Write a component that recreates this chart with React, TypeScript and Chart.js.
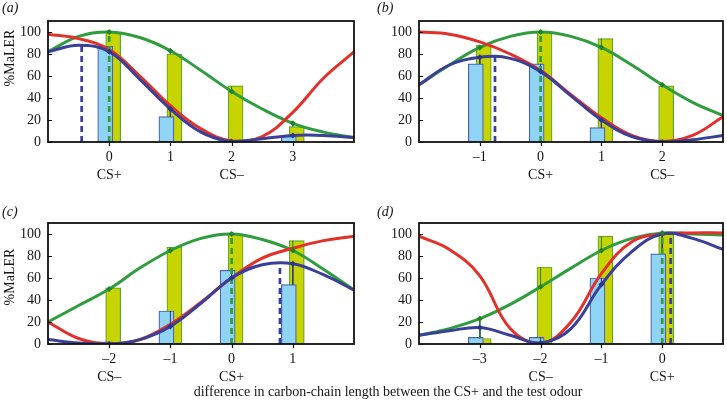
import React, { useEffect, useRef } from 'react';
import { Chart, registerables } from 'chart.js';

Chart.register(...registerables);

const FONT = '"Liberation Serif", "DejaVu Serif", serif';
const TEXT = '#151515';

// shared y ticks
const yTicks = [0, 20, 40, 60, 80, 100];
const yRange = [0, 110];

// ---------- panel (a) ----------
const xRangeA = [-1, 4];
const ticksA = [0, 1, 2, 3];
const namesA = ['CS+', '', 'CS–', ''];
const blueBarsA = [87, 23, 1, 5];
const yellowBarsA = [100, 80, 51, 14];
const curveXA = [-1, -0.5, 0, 0.5, 1, 1.5, 2, 2.5, 3, 3.5, 4];
const greenA = [82, 96, 100, 95, 83, 65, 46, 30, 17, 9, 4];
const redA = [98, 94, 84, 60, 33, 12, 1, 5, 27, 58, 82];
const blueA = [82, 88, 82, 57, 30, 9, 0.5, 3, 6, 6, 4];
const greenMarksA = [100, 83, 46, 17];
const blueMarksA = [82, 30, 0.5, 6];
const greenPeakA = [0, 100];
const bluePeakA = [-0.45, 88];

// ---------- panel (b) ----------
const xRangeB = [-2, 3];
const ticksB = [-1, 0, 1, 2];
const namesB = ['', 'CS+', '', 'CS–'];
const blueBarsB = [71, 71, 13, 0];
const yellowBarsB = [88, 100, 94, 51];
const curveXB = [-2, -1.5, -1, -0.5, 0, 0.5, 1, 1.5, 2, 2.5, 3];
const greenB = [52, 70, 86, 96, 100, 96, 86, 70, 52, 36, 24];
const redB = [100, 98, 91, 80, 65, 43, 22, 6, 0.5, 6, 23];
const blueB = [52, 70, 77, 76, 64, 42, 20, 5, 0, 2, 6];
const greenMarksB = [86, 100, 86, 52];
const blueMarksB = [77, 64, 20, 0];
const greenPeakB = [0, 100];
const bluePeakB = [-0.75, 79];

// ---------- panel (c) ----------
const xRangeC = [-3, 2];
const ticksC = [-2, -1, 0, 1];
const namesC = ['CS–', '', 'CS+', ''];
const blueBarsC = [2, 30, 67, 54];
const yellowBarsC = [51, 88, 100, 94];
const curveXC = [-3, -2.5, -2, -1.5, -1, -0.5, 0, 0.5, 1, 1.5, 2];
const greenC = [20, 35, 50, 69, 85, 96, 100, 95, 85, 68, 49];
const redC = [20, 5, 0, 4, 18, 38, 60, 78, 87, 94, 98];
const blueC = [4, 1, 0, 4, 16, 37, 60, 72, 73, 63, 49];
const greenMarksC = [50, 85, 100, 85];
const blueMarksC = [0, 16, 60, 73];
const greenPeakC = [0, 100];
const bluePeakC = [0.79, 74];

// ---------- panel (d) ----------
const xRangeD = [-4, 1];
const ticksD = [-3, -2, -1, 0];
const namesD = ['', 'CS–', '', 'CS+'];
const blueBarsD = [6, 6, 60, 82];
const yellowBarsD = [5, 70, 98, 100];
const curveXD = [-4, -3.5, -3, -2.5, -2, -1.5, -1, -0.5, 0, 0.5, 1];
const greenD = [8, 14, 23, 36, 52, 69, 85, 96, 101, 100, 99];
const redD = [98, 86, 62, 14, 0.5, 20, 64, 93, 100, 101, 101];
const blueD = [8, 12, 15, 8, 1, 14, 54, 84, 100, 96, 86];
const greenMarksD = [23, 52, 85, 101];
const blueMarksD = [15, 1, 54, 100];
const greenPeakD = [0, 101];
const bluePeakD = [0.14, 100];

// ---------- styles ----------
const GREEN = '#2f9c3e';
const GREEN_DARK = '#23802f';
const RED = '#e3302a';
const BLUE = '#3a3f98';
const BLUE_DARK = '#2c3488';
const BLUE_FILL = '#8fd3f5';
const BLUE_EDGE = '#4b5fae';
const YELLOW_FILL = '#c8d400';
const YELLOW_EDGE = '#5aa62f';
const BAR_SHIFT = 0.065;

type PanelData = {
  xRange: number[];
  ticks: number[];
  names: string[];
  blueBars: number[];
  yellowBars: number[];
  curveX: number[];
  green: number[];
  red: number[];
  blue: number[];
  greenMarks: number[];
  blueMarks: number[];
  greenPeak: number[];
  bluePeak: number[];
};

const panels: Record<string, PanelData> = {
  a: { xRange: xRangeA, ticks: ticksA, names: namesA, blueBars: blueBarsA, yellowBars: yellowBarsA, curveX: curveXA, green: greenA, red: redA, blue: blueA, greenMarks: greenMarksA, blueMarks: blueMarksA, greenPeak: greenPeakA, bluePeak: bluePeakA },
  b: { xRange: xRangeB, ticks: ticksB, names: namesB, blueBars: blueBarsB, yellowBars: yellowBarsB, curveX: curveXB, green: greenB, red: redB, blue: blueB, greenMarks: greenMarksB, blueMarks: blueMarksB, greenPeak: greenPeakB, bluePeak: bluePeakB },
  c: { xRange: xRangeC, ticks: ticksC, names: namesC, blueBars: blueBarsC, yellowBars: yellowBarsC, curveX: curveXC, green: greenC, red: redC, blue: blueC, greenMarks: greenMarksC, blueMarks: blueMarksC, greenPeak: greenPeakC, bluePeak: bluePeakC },
  d: { xRange: xRangeD, ticks: ticksD, names: namesD, blueBars: blueBarsD, yellowBars: yellowBarsD, curveX: curveXD, green: greenD, red: redD, blue: blueD, greenMarks: greenMarksD, blueMarks: blueMarksD, greenPeak: greenPeakD, bluePeak: bluePeakD },
};

const framePlugin = {
  id: 'frame',
  afterDraw(chart: any) {
    const { ctx, chartArea: a, scales } = chart;
    ctx.save();
    ctx.strokeStyle = '#111';
    ctx.lineWidth = 1.2;
    ctx.beginPath();
    scales.y.ticks.forEach((t: any) => {
      const y = Math.round(scales.y.getPixelForValue(t.value)) + 0.5;
      ctx.moveTo(a.left, y);
      ctx.lineTo(a.left + 4, y);
    });
    scales.x.ticks.forEach((t: any) => {
      const x = Math.round(scales.x.getPixelForValue(t.value)) + 0.5;
      ctx.moveTo(x, a.bottom);
      ctx.lineTo(x, a.bottom + 4);
    });
    ctx.stroke();
    ctx.lineWidth = 1.8;
    ctx.strokeRect(a.left, a.top, a.right - a.left, a.bottom - a.top);
    ctx.restore();
  },
};

function fmt(v: number) {
  return v < 0 ? '–' + Math.abs(v) : String(v);
}

function buildConfig(p: PanelData, yWidth: number, padRight: number): any {
  const pts = (xs: number[], ys: number[]) => xs.map((x, i) => ({ x, y: ys[i] }));
  const residual = (marks: number[], bars: number[]) =>
    p.ticks.flatMap((t, i) => [
      { x: t, y: marks[i] },
      { x: t, y: bars[i] },
      { x: t, y: null },
    ]);
  const curve = (data: any, color: string, order: number) => ({
    type: 'line', data, borderColor: color, borderWidth: 3, pointRadius: 0, tension: 0.4, order,
  });
  const dashed = (peak: number[], color: string) => ({
    type: 'line',
    data: [{ x: peak[0], y: 0 }, { x: peak[0], y: peak[1] }],
    borderColor: color, borderWidth: 2.7, borderDash: [6, 4], pointRadius: 0, order: 2,
  });
  const marks = (ys: number[], color: string) => ({
    type: 'line', data: pts(p.ticks, ys), showLine: false, pointStyle: 'rectRot', pointRadius: 3,
    pointBackgroundColor: color, pointBorderColor: color, pointBorderWidth: 0, order: 1,
  });
  return {
    type: 'bar',
    data: {
      datasets: [
        {
          type: 'bar', data: p.ticks.map((t, i) => ({ x: t + BAR_SHIFT, y: p.yellowBars[i] })),
          backgroundColor: YELLOW_FILL, borderColor: YELLOW_EDGE, borderWidth: 1.2, borderSkipped: false,
          barThickness: 15, grouped: false, order: 10,
        },
        {
          type: 'bar', data: p.ticks.map((t, i) => ({ x: t - BAR_SHIFT, y: p.blueBars[i] })),
          backgroundColor: BLUE_FILL, borderColor: BLUE_EDGE, borderWidth: 1.2, borderSkipped: false,
          barThickness: 15, grouped: false, order: 9,
        },
        curve(pts(p.curveX, p.green), GREEN, 6),
        curve(pts(p.curveX, p.red), RED, 5),
        curve(pts(p.curveX, p.blue), BLUE, 4),
        { type: 'line', data: residual(p.greenMarks, p.yellowBars), borderColor: GREEN_DARK, borderWidth: 1, pointRadius: 0, spanGaps: false, order: 3 },
        { type: 'line', data: residual(p.blueMarks, p.blueBars), borderColor: BLUE_DARK, borderWidth: 1, pointRadius: 0, spanGaps: false, order: 3 },
        dashed(p.greenPeak, GREEN),
        dashed(p.bluePeak, BLUE),
        marks(p.greenMarks, GREEN_DARK),
        marks(p.blueMarks, BLUE_DARK),
      ],
    },
    options: {
      responsive: false,
      animation: false,
      layout: { padding: { top: 21, right: padRight, left: 0, bottom: 0 } },
      plugins: { legend: { display: false }, tooltip: { enabled: false }, title: { display: false } },
      scales: {
        x: {
          type: 'linear', min: p.xRange[0], max: p.xRange[1], offset: false,
          grid: { display: false, drawTicks: false }, border: { display: false },
          afterBuildTicks: (s: any) => { s.ticks = p.ticks.map((v) => ({ value: v })); },
          afterFit: (s: any) => { s.height = 58; s.paddingLeft = 0; s.paddingRight = 0; },
          ticks: {
            autoSkip: false, maxRotation: 0, minRotation: 0, padding: 6, color: TEXT,
            font: { family: FONT, size: 14, lineHeight: 1.3 },
            callback: (v: number, i: number) => (p.names[i] ? [fmt(v), p.names[i]] : fmt(v)),
          },
        },
        y: {
          type: 'linear', min: yRange[0], max: yRange[1],
          grid: { display: false, drawTicks: false }, border: { display: false },
          afterBuildTicks: (s: any) => { s.ticks = yTicks.map((v) => ({ value: v })); },
          afterFit: (s: any) => { s.width = yWidth; s.paddingTop = 0; s.paddingBottom = 0; },
          ticks: { padding: 7, color: TEXT, font: { family: FONT, size: 14 }, callback: (v: number) => String(v) },
        },
      },
    },
    plugins: [framePlugin],
  };
}

function PanelChart(props: { id: string; left: number; top: number; width: number; yWidth: number; padRight: number }) {
  const ref = useRef<HTMLCanvasElement>(null);
  useEffect(() => {
    if (!ref.current) return;
    const chart = new Chart(ref.current, buildConfig(panels[props.id], props.yWidth, props.padRight));
    return () => chart.destroy();
  }, []);
  return (
    <canvas
      ref={ref}
      width={props.width}
      height={200}
      style={{ position: 'absolute', left: props.left, top: props.top, width: props.width, height: 200 }}
    />
  );
}

const labelStyle: React.CSSProperties = {
  position: 'absolute', fontFamily: FONT, fontSize: 14, color: TEXT, whiteSpace: 'nowrap', lineHeight: '16px',
};

export default function App() {
  return (
    <div style={{ position: 'absolute', left: 0, top: 0, width: 727, height: 403, background: '#fff', overflow: 'hidden' }}>
      <PanelChart id="a" left={0} top={0} width={362} yWidth={48} padRight={8} />
      <PanelChart id="b" left={362} top={0} width={365} yWidth={57} padRight={3} />
      <PanelChart id="c" left={0} top={202} width={362} yWidth={48} padRight={8} />
      <PanelChart id="d" left={362} top={202} width={365} yWidth={57} padRight={3} />
      <div style={{ ...labelStyle, left: 2, top: 0, fontStyle: 'italic' }}>(a)</div>
      <div style={{ ...labelStyle, left: 377, top: 0, fontStyle: 'italic' }}>(b)</div>
      <div style={{ ...labelStyle, left: 2, top: 204, fontStyle: 'italic' }}>(c)</div>
      <div style={{ ...labelStyle, left: 377, top: 204, fontStyle: 'italic' }}>(d)</div>
      <div style={{ ...labelStyle, left: 10, top: 58, transform: 'translate(-50%, -50%) rotate(-90deg)' }}>%MaLER</div>
      <div style={{ ...labelStyle, left: 10, top: 277, transform: 'translate(-50%, -50%) rotate(-90deg)' }}>%MaLER</div>
      <div style={{ ...labelStyle, left: 388, top: 384, transform: 'translateX(-50%)' }}>
        difference in carbon-chain length between the CS+ and the test odour
      </div>
    </div>
  );
}
